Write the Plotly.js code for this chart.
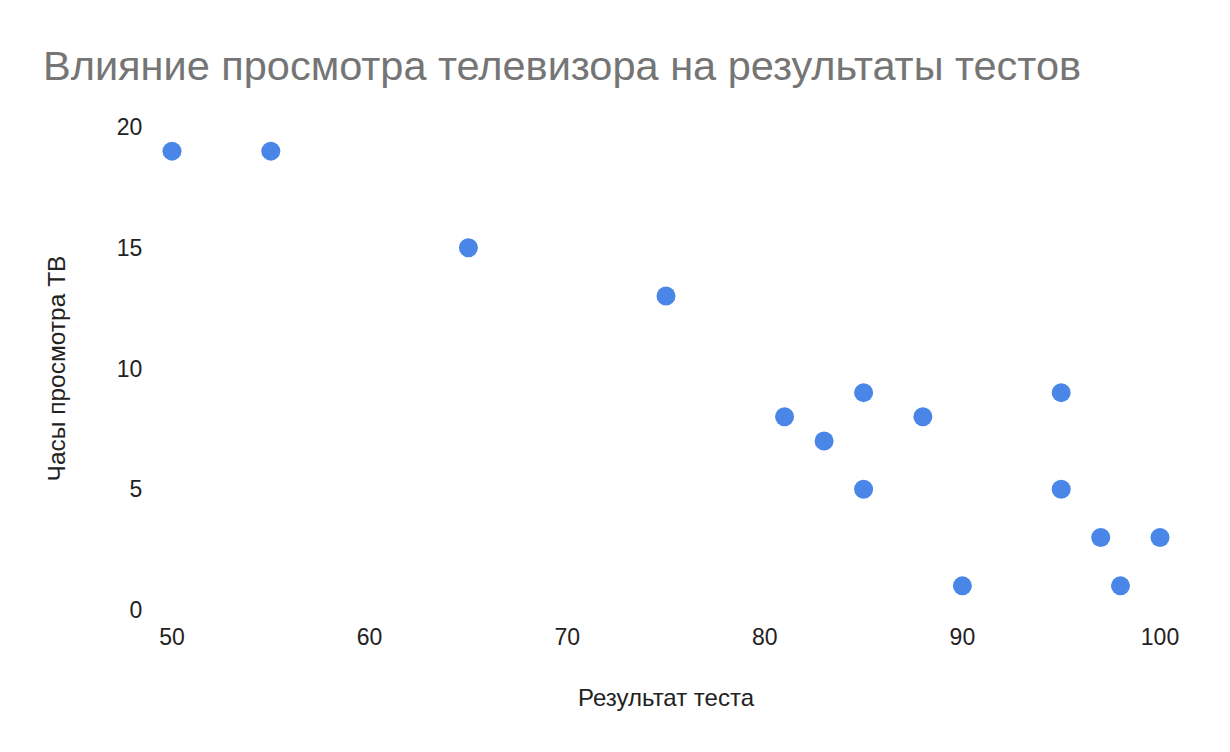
<!DOCTYPE html>
<html>
<head>
<meta charset="utf-8">
<script src="https://cdn.plot.ly/plotly-3.0.1.min.js"></script>
<style>html,body{margin:0;padding:0;background:#fff;}#chart{width:1230px;height:752px;}</style>
</head>
<body>
<div id="chart"></div>
<script>
const testScores = [50, 55, 65, 75, 81, 83, 85, 85, 88, 90, 95, 95, 97, 98, 100];
const tvHours = [19, 19, 15, 13, 8, 7, 9, 5, 8, 1, 9, 5, 3, 1, 3];
const xTicks = [50, 60, 70, 80, 90, 100];
const yTicks = [0, 5, 10, 15, 20];
const chartTitle = 'Влияние просмотра телевизора на результаты тестов';
const xTitle = 'Результат теста';
const yTitle = 'Часы просмотра ТВ';

const trace = {
  x: testScores,
  y: tvHours,
  type: 'scatter',
  mode: 'markers',
  cliponaxis: false,
  marker: {color: '#4a86e8', size: 19},
  hoverinfo: 'x+y'
};

const layout = {
  width: 1230,
  height: 752,
  paper_bgcolor: '#ffffff',
  plot_bgcolor: '#ffffff',
  font: {family: 'Liberation Sans, Arial, sans-serif', color: '#222222', size: 23},
  margin: {l: 172, r: 70, t: 127, b: 142},
  showlegend: false,
  title: {
    text: chartTitle,
    font: {size: 41.5, color: '#757575', family: 'Liberation Sans, Arial, sans-serif'},
    x: 43 / 1230, xref: 'container', xanchor: 'left',
    y: 1 - 65 / 752, yref: 'container', yanchor: 'middle'
  },
  xaxis: {
    range: [50, 100],
    tickvals: xTicks,
    showgrid: false,
    zeroline: false,
    showline: false,
    ticks: 'outside',
    ticklen: 6,
    tickcolor: 'rgba(0,0,0,0)',
    tickfont: {size: 23, color: '#222222'},
    title: {text: xTitle, font: {size: 24, color: '#222222'}, standoff: 40}
  },
  yaxis: {
    range: [0, 20],
    tickvals: yTicks,
    showgrid: false,
    zeroline: false,
    showline: false,
    ticks: 'outside',
    ticklen: 24,
    tickcolor: 'rgba(0,0,0,0)',
    tickfont: {size: 23, color: '#222222'},
    title: {text: yTitle, font: {size: 24.5, color: '#222222'}, standoff: 44}
  }
};

Plotly.newPlot('chart', [trace], layout, {displayModeBar: false});
</script>
</body>
</html>
